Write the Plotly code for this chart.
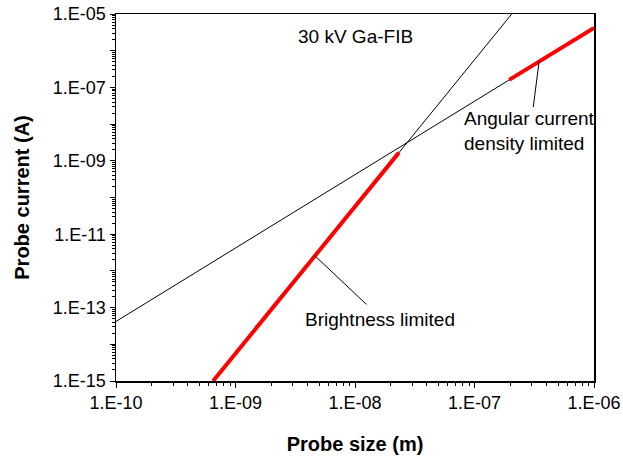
import plotly.graph_objects as go
import math

# ---- data ----
# Brightness-limited line (steep, black) and its highlighted (red) part
bright_size = [6.5e-10, 2.05e-7]
bright_current = [1e-15, 1e-5]
bright_red_size = [6.5e-10, 2.33e-8]
bright_red_current = [1e-15, 1.67e-9]

# Angular-current-density-limited line (shallow, black) and its red part
angular_size = [1e-10, 1e-6]
angular_current = [4.2e-14, 4.2e-6]
angular_red_size = [1.95e-7, 1e-6]
angular_red_current = [1.6e-7, 4.2e-6]

x_tickvals = [1e-10, 1e-9, 1e-8, 1e-7, 1e-6]
x_ticktext = ["1.E-10", "1.E-09", "1.E-08", "1.E-07", "1.E-06"]
y_tickvals = [10.0 ** k for k in range(-15, -4)]
y_ticktext = [("1.E-%02d" % (-k)) if (k % 2) else "" for k in range(-15, -4)]

x_minor = [m * 10.0 ** k for k in range(-10, -6) for m in range(2, 10)]
y_minor = [m * 10.0 ** k for k in range(-15, -5) for m in range(2, 10)]

FONT = "Liberation Sans, Arial, sans-serif"

fig = go.Figure()
fig.add_trace(go.Scatter(x=bright_size, y=bright_current, mode="lines",
                         line=dict(color="black", width=1), showlegend=False))
fig.add_trace(go.Scatter(x=angular_size, y=angular_current, mode="lines",
                         line=dict(color="black", width=1), showlegend=False))
fig.add_trace(go.Scatter(x=bright_red_size, y=bright_red_current, mode="lines",
                         line=dict(color="#ff0000", width=4), showlegend=False))
fig.add_trace(go.Scatter(x=angular_red_size, y=angular_red_current, mode="lines",
                         line=dict(color="#ff0000", width=4), showlegend=False))

axis_common = dict(type="log", showgrid=False, zeroline=False, showline=True,
                   linecolor="black", linewidth=1.5, mirror=True, automargin=False,
                   ticks="outside", ticklen=5, tickwidth=1, tickcolor="black",
                   ticklabeloverflow="allow",
                   tickfont=dict(family=FONT, size=18, color="black"))

fig.update_layout(
    width=623, height=459,
    margin=dict(l=116, r=29, t=14, b=78),
    paper_bgcolor="white", plot_bgcolor="white",
    xaxis=dict(axis_common, range=[-10, -6], tickmode="array",
               tickvals=x_tickvals, ticktext=x_ticktext,
               minor=dict(tickmode="array", tickvals=x_minor, ticks="outside",
                          ticklen=3, tickcolor="black"),
               title=dict(text="<b>Probe size (m)</b>", standoff=25,
                          font=dict(family=FONT, size=20, color="black"))),
    yaxis=dict(axis_common, range=[-15, -5], tickmode="array",
               tickvals=y_tickvals, ticktext=y_ticktext,
               minor=dict(tickmode="array", tickvals=y_minor, ticks="outside",
                          ticklen=3, tickcolor="black"),
               title=dict(text="<b>Probe current (A)</b>", standoff=18,
                          font=dict(family=FONT, size=20, color="black"))),
)

afont = dict(family=FONT, size=19, color="black")
fig.add_annotation(x=-8.0, y=-5.6, xref="x", yref="y", text="30 kV Ga-FIB",
                   showarrow=False, font=afont)
fig.add_annotation(x=-7.105, y=-8.197, xref="x", yref="y",
                   text="Angular current<br>density limited", align="left",
                   xanchor="left", showarrow=False, font=afont)
fig.add_annotation(x=-8.435, y=-13.313, xref="x", yref="y",
                   text="Brightness limited", xanchor="left",
                   showarrow=False, font=afont)
# leader lines
fig.add_annotation(x=math.log10(3.47e-7), y=-6.297, xref="x", yref="y", text="",
                   showarrow=True, arrowhead=0, arrowwidth=1, arrowcolor="black",
                   ax=-6, ay=47, standoff=0)
fig.add_annotation(x=math.log10(4.62e-9), y=-11.588, xref="x", yref="y", text="",
                   showarrow=True, arrowhead=0, arrowwidth=1, arrowcolor="black",
                   ax=53, ay=50, standoff=0)

# remove the browser's default 8px body margin so the figure sits at (0, 0)
fig.write_html("out.html",
               config={"displayModeBar": False, "staticPlot": True},
               post_script="document.body.style.margin='0';"
                           "document.body.style.overflow='hidden';")
